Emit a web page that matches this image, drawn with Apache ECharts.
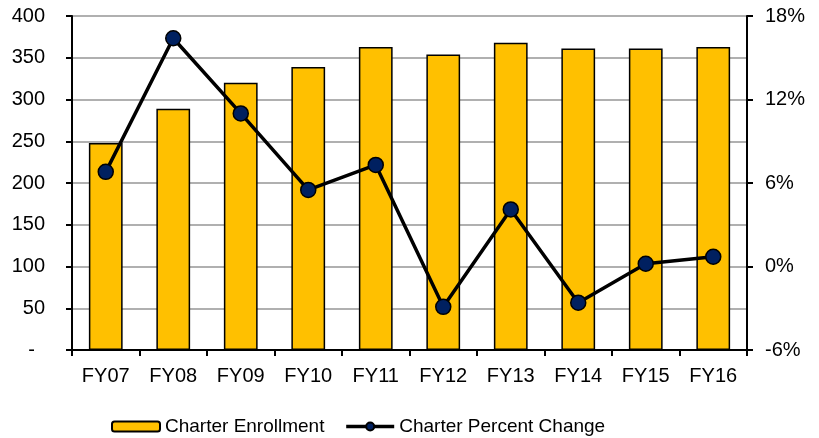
<!DOCTYPE html>
<html>
<head>
<meta charset="utf-8">
<script src="https://cdn.jsdelivr.net/npm/echarts@6/dist/echarts.min.js"></script>
<style>
  html, body { margin: 0; padding: 0; background: #fff; }
  #chart { width: 819px; height: 438px; }
</style>
</head>
<body>
<div id="chart"></div>
<script>
// data
const years = ['FY07', 'FY08', 'FY09', 'FY10', 'FY11', 'FY12', 'FY13', 'FY14', 'FY15', 'FY16'];
const enrollment = [248, 289, 320, 339, 363, 354, 368, 361, 361, 363];
const pctChange = [6.8, 16.4, 11.0, 5.5, 7.3, -2.9, 4.1, -2.6, 0.2, 0.7];

const font = 'Liberation Sans, Arial, sans-serif';

let myChart = echarts.init(document.getElementById('chart'));
myChart.setOption({
  animation: false,
  textStyle: { fontFamily: font },
  grid: { left: 72, right: 72, top: 16, bottom: 88 },
  legend: {
    top: 412,
    left: 106,
    itemGap: 20,
    itemWidth: 48,
    itemHeight: 10,
    textStyle: { fontSize: 19, color: '#000', fontFamily: font },
    data: [
      { name: 'Charter Enrollment' },
      { name: 'Charter Percent Change', lineStyle: { width: 3.5 } }
    ]
  },
  xAxis: {
    type: 'category',
    data: years,
    axisLine: { lineStyle: { color: '#000', width: 2 } },
    axisTick: { show: true, length: 6, lineStyle: { color: '#000', width: 2 } },
    axisLabel: { fontSize: 20, color: '#000', margin: 16, fontFamily: font }
  },
  yAxis: [{
    type: 'value',
    min: 0,
    max: 400,
    interval: 50,
    axisLine: { show: true, lineStyle: { color: '#000', width: 2 } },
    axisTick: { show: true, length: 6, lineStyle: { color: '#000', width: 2 } },
    splitLine: { lineStyle: { color: '#969696', width: 1.5 } },
    axisLabel: {
      fontSize: 20, color: '#000', margin: 27, fontFamily: font,
      formatter: function (v) { return v === 0 ? '{d|-}' : String(v); },
      rich: { d: { fontSize: 20, color: '#000', padding: [0, 10, 0, 0] } }
    }
  }, {
    type: 'value',
    min: -6,
    max: 18,
    interval: 6,
    position: 'right',
    axisLine: { show: true, lineStyle: { color: '#000', width: 2 } },
    axisTick: { show: true, length: 6, lineStyle: { color: '#000', width: 2 } },
    splitLine: { show: false },
    axisLabel: {
      fontSize: 20, color: '#000', margin: 18, fontFamily: font,
      formatter: function (v) { return v + '%'; }
    }
  }],
  series: [{
    name: 'Charter Enrollment',
    type: 'bar',
    data: enrollment,
    barWidth: '50%',
    itemStyle: { color: '#FFC000', borderColor: '#000', borderWidth: 1.5 }
  }, {
    name: 'Charter Percent Change',
    type: 'line',
    yAxisIndex: 1,
    data: pctChange,
    symbol: 'circle',
    symbolSize: 15,
    lineStyle: { color: '#000', width: 3.5 },
    itemStyle: { color: '#002060', borderColor: '#000', borderWidth: 1.5 }
  }]
});
</script>
</body>
</html>
